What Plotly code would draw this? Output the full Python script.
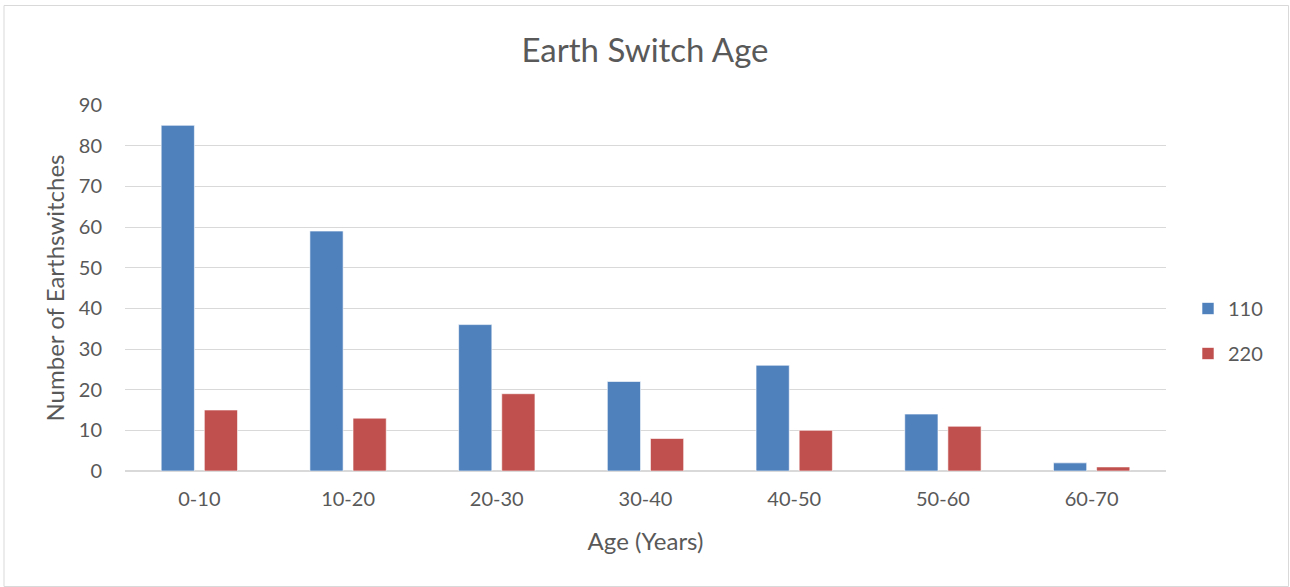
import plotly.graph_objects as go

# Earth switch counts by age band, per voltage level
age_bands = ["0-10", "10-20", "20-30", "30-40", "40-50", "50-60", "60-70"]
count_110 = [85, 59, 36, 22, 26, 14, 2]
count_220 = [15, 13, 19, 8, 10, 11, 1]

W, H = 1290, 587
ML, MR, MT, MB = 125, 124, 105, 116
plot_w = W - ML - MR
plot_h = H - MT - MB

text_color = "#595959"
font_family = "Lato, 'Open Sans', sans-serif"

fig = go.Figure()
fig.add_trace(go.Bar(
    x=age_bands, y=count_110, name="110",
    marker=dict(color="#4F81BD", line=dict(color="#FFFFFF", width=0.6)),
    legendgroup="a",
))
fig.add_trace(go.Bar(
    x=age_bands, y=count_220, name="220",
    marker=dict(color="#C0504D", line=dict(color="#FFFFFF", width=0.6)),
    legendgroup="b",
))


def px_x(px):
    return (px - ML) / plot_w


def px_y(py):
    return (H - MB - py) / plot_h


fig.update_layout(
    width=W, height=H,
    margin=dict(l=ML, r=MR, t=MT, b=MB),
    paper_bgcolor="white", plot_bgcolor="white",
    font=dict(family=font_family, color=text_color, size=20),
    barmode="group", bargap=0.42, bargroupgap=0.23,
    title=dict(text="Earth Switch Age", x=0.5, xanchor="center",
               y=1 - 50 / H, yanchor="middle",
               font=dict(size=33, color=text_color, family=font_family)),
    xaxis=dict(
        title=dict(text="Age (Years)", font=dict(size=24), standoff=24),
        showgrid=False, showline=True, linecolor="#D9D9D9", linewidth=1,
        ticks="", tickfont=dict(size=20), ticklabelstandoff=10, fixedrange=True,
    ),
    yaxis=dict(
        title=dict(text="Number of Earthswitches", font=dict(size=24), standoff=7),
        range=[0, 90], dtick=10, showgrid=True, gridcolor="#D9D9D9", gridwidth=1,
        zeroline=True, zerolinecolor="#D9D9D9", showline=False,
        ticks="", tickfont=dict(size=20), ticklabelstandoff=22,
    ),
    legend=dict(
        x=px_x(1188), y=px_y(289), xanchor="left", yanchor="top",
        font=dict(size=20, color=text_color), tracegroupgap=16,
        bgcolor="rgba(0,0,0,0)", itemwidth=30,
    ),
    shapes=[dict(
        type="rect", xref="paper", yref="paper",
        x0=px_x(4), x1=px_x(1288.5), y0=px_y(586.5), y1=px_y(5.5),
        line=dict(color="#D9D9D9", width=1), fillcolor="rgba(0,0,0,0)",
        layer="below",
    )],
)

fig.write_html("out.html")
